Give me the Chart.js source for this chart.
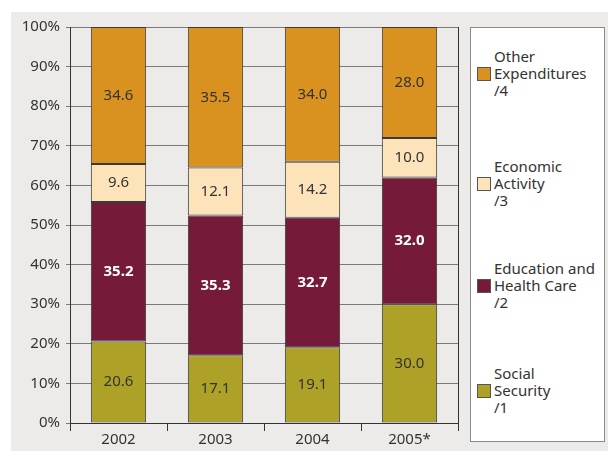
<!DOCTYPE html>
<html>
<head>
<meta charset="utf-8">
<script src="https://cdn.jsdelivr.net/npm/chart.js@4/dist/chart.umd.min.js"></script>
<style>
  body { margin: 0; background: #fff; width: 608px; height: 451px; overflow: hidden; font-family: "Noto Sans", sans-serif; }
  #bg { position: absolute; left: 11px; top: 12px; width: 597px; height: 439px; background: #ecebea; }
  #wrap { position: absolute; left: 11px; top: 12px; width: 597px; height: 439px; }
  #legend { position: absolute; left: 470px; top: 27px; width: 135px; height: 415px; background: #fff; border: 1px solid #8a8a8a; box-sizing: border-box; }
  .item { position: absolute; left: 6px; display: flex; align-items: center; }
  .swatch { width: 12px; height: 12px; border: 1px solid #555; margin-right: 3px; flex: none; }
  .lbl { font-size: 15px; line-height: 17px; color: #333; }
</style>
</head>
<body>
<div id="bg"></div>
<div id="wrap"><canvas id="chart" width="597" height="439"></canvas></div>
<div id="legend"></div>
<script>
const years = ['2002', '2003', '2004', '2005*'];
const socialSecurity = [20.6, 17.1, 19.1, 30.0];
const educationHealth = [35.2, 35.3, 32.7, 32.0];
const economicActivity = [9.6, 12.1, 14.2, 10.0];
const otherExpenditures = [34.6, 35.5, 34.0, 28.0];
const seriesNames = ['Social Security /1', 'Education and Health Care /2', 'Economic Activity /3', 'Other Expenditures /4'];
const seriesColors = ['#ada128', '#761a3a', '#fde3ba', '#d9921f'];
const yTicks = [0, 10, 20, 30, 40, 50, 60, 70, 80, 90, 100];

// legend (top to bottom: 4,3,2,1)
const legendLines = [
  ['Other', 'Expenditures', '/4'],
  ['Economic', 'Activity', '/3'],
  ['Education and', 'Health Care', '/2'],
  ['Social', 'Security', '/1']
];
const legendColors = [seriesColors[3], seriesColors[2], seriesColors[1], seriesColors[0]];
const legendCenters = [73, 183, 285, 390];
const legend = document.getElementById('legend');
legendLines.forEach(function(lines, i) {
  const item = document.createElement('div');
  item.className = 'item';
  item.style.top = (legendCenters[i] - 27 - 26) + 'px';
  item.innerHTML = '<div class="swatch" style="background:' + legendColors[i] + '"></div>' +
    '<div class="lbl">' + lines.join('<br>') + '</div>';
  legend.appendChild(item);
});

const valueLabels = {
  id: 'valueLabels',
  afterDatasetsDraw(chart) {
    const ctx = chart.ctx;
    ctx.save();
    ctx.textAlign = 'center';
    ctx.textBaseline = 'middle';
    chart.data.datasets.forEach(function(ds, di) {
      const meta = chart.getDatasetMeta(di);
      meta.data.forEach(function(bar, i) {
        const y = (bar.y + bar.base) / 2;
        if (di === 1) {
          ctx.font = 'bold 15px "Noto Sans"';
          ctx.fillStyle = '#ffffff';
        } else {
          ctx.font = '15px "Noto Sans"';
          ctx.fillStyle = '#333333';
        }
        ctx.fillText(ds.data[i].toFixed(1), bar.x, y);
      });
    });
    ctx.restore();
  }
};

const datasets = [socialSecurity, educationHealth, economicActivity, otherExpenditures].map(function(vals, i) {
  return {
    label: seriesNames[i],
    data: vals,
    backgroundColor: seriesColors[i],
    borderColor: '#3a3a3a',
    borderWidth: 1,
    borderSkipped: false,
    categoryPercentage: 1,
    barPercentage: 0.57
  };
});

new Chart(document.getElementById('chart').getContext('2d'), {
  type: 'bar',
  data: { labels: years, datasets: datasets },
  plugins: [valueLabels],
  options: {
    responsive: false,
    animation: false,
    layout: { padding: { left: 0, right: 150, top: 14, bottom: 0 } },
    plugins: { legend: { display: false }, tooltip: { enabled: false } },
    scales: {
      x: {
        stacked: true,
        afterFit: function(s) { s.height = 28; },
        grid: { offset: true, drawOnChartArea: false, drawTicks: true, tickLength: 8, color: '#333', lineWidth: 1 },
        border: { color: '#333', width: 1 },
        ticks: { color: '#333', padding: 0, font: { family: 'Noto Sans', size: 15 } }
      },
      y: {
        stacked: true,
        min: 0,
        max: 100,
        afterFit: function(s) { s.width = 59; },
        afterBuildTicks: function(s) { s.ticks = yTicks.map(function(v) { return { value: v }; }); },
        grid: { color: '#7a7a7a', lineWidth: 1, tickLength: 4 },
        border: { color: '#333', width: 1 },
        ticks: { color: '#333', padding: 6, font: { family: 'Noto Sans', size: 15 }, callback: function(v) { return v + '%'; } }
      },
      y2: {
        position: 'right',
        min: 0,
        max: 100,
        afterFit: function(s) { s.width = 0; },
        grid: { drawOnChartArea: false, drawTicks: false },
        border: { color: '#333', width: 1 },
        ticks: { display: false }
      }
    }
  }
});
</script>
</body>
</html>
